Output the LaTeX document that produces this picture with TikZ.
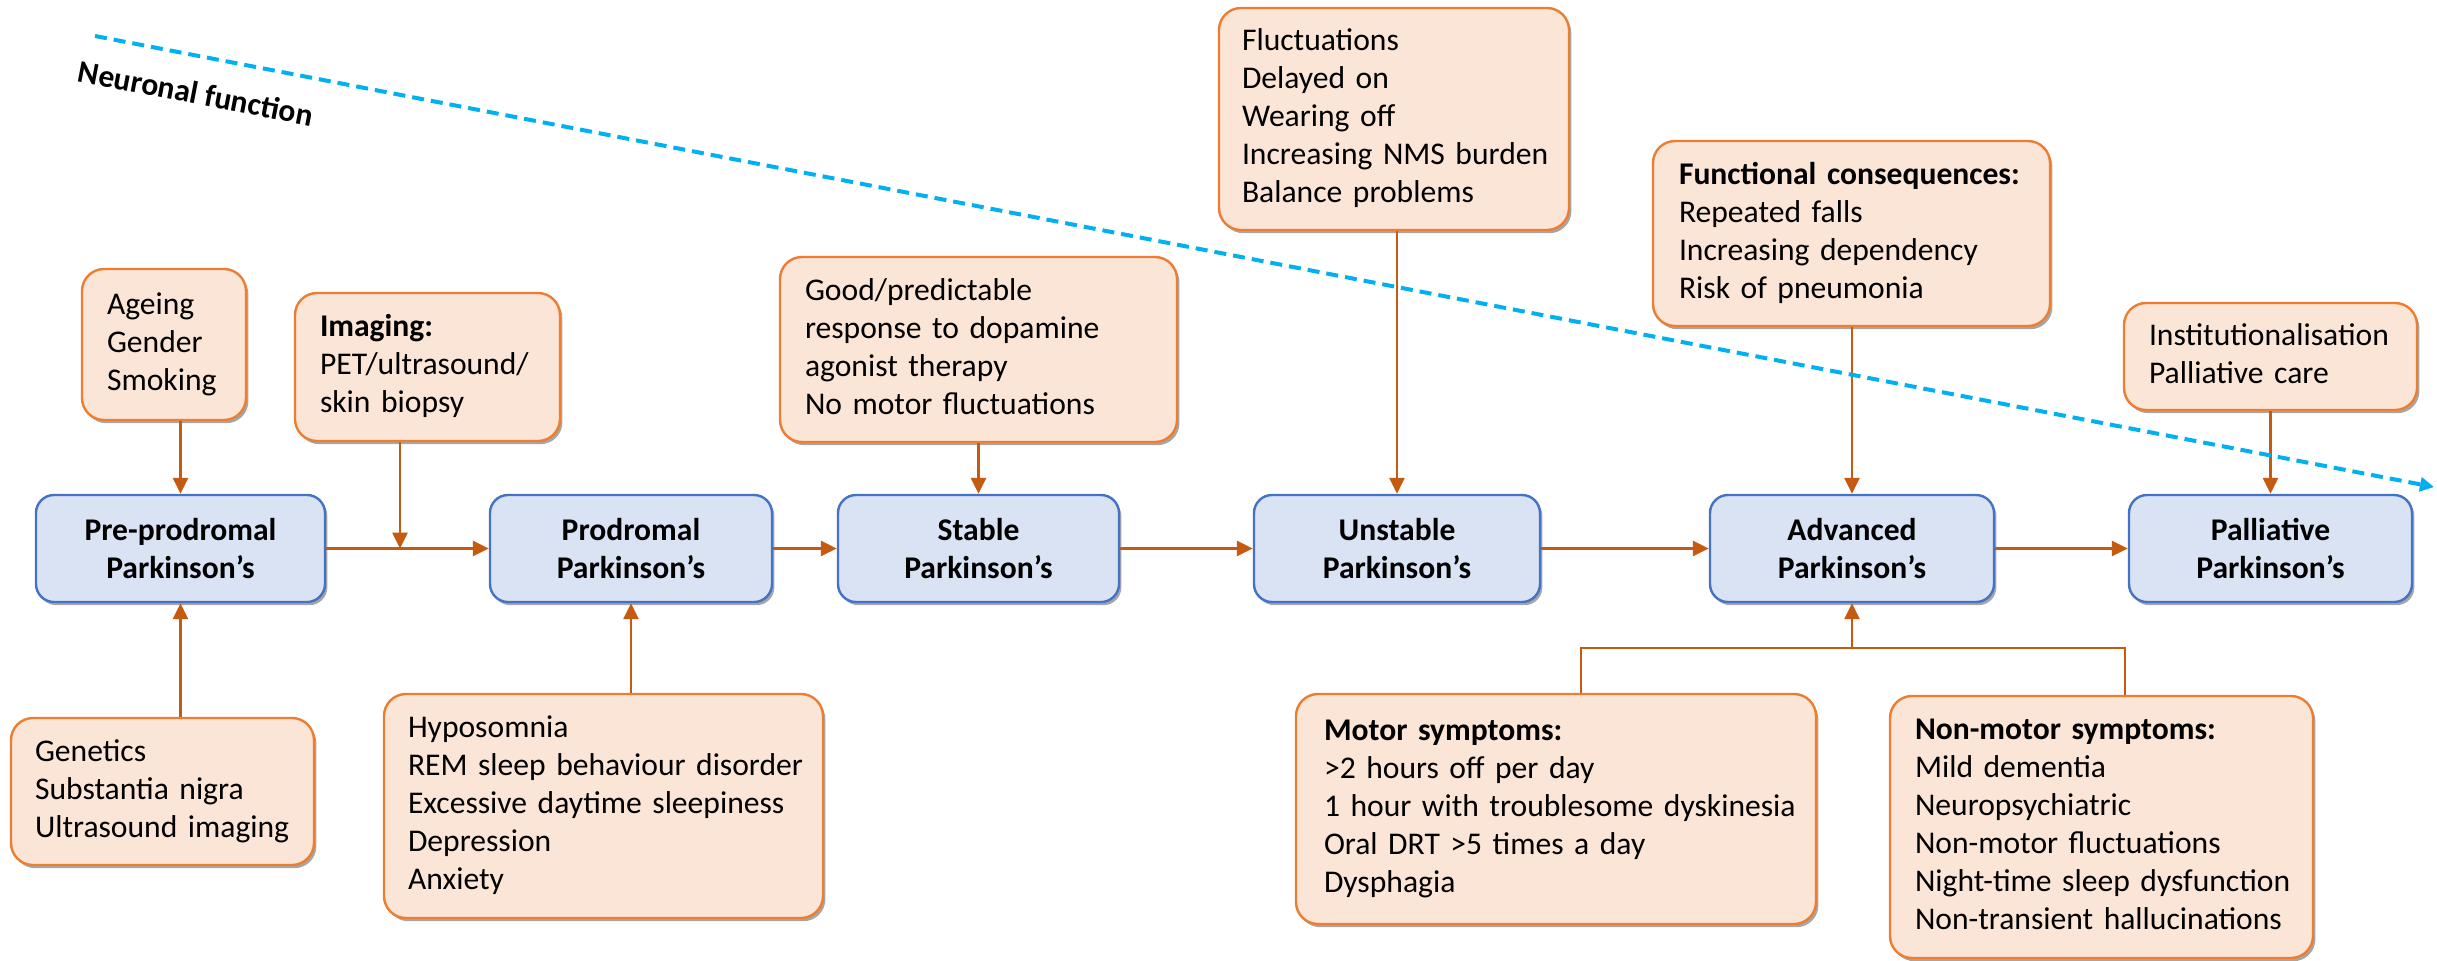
\documentclass[tikz,border=0pt]{standalone}
\usepackage{fontspec}
\setmainfont{Carlito}
\usetikzlibrary{arrows.meta,shadows}
\definecolor{bfill}{HTML}{DAE3F3}
\definecolor{bdraw}{HTML}{4472C4}
\definecolor{ofill}{HTML}{FBE5D6}
\definecolor{odraw}{HTML}{ED7D31}
\definecolor{connc}{HTML}{C55A11}
\definecolor{nfblue}{HTML}{00B0F0}
\newcommand{\boxlines}[1]{\begin{tabular}{@{}l@{}}#1\end{tabular}}
\begin{document}
\begin{tikzpicture}[x=0.5pt,y=-0.5pt,
  font=\fontsize{15.8}{19}\selectfont,
  shade/.style={drop shadow={shadow xshift=1.2pt,shadow yshift=-1.6pt,fill=black,opacity=0.35}},
  stage/.style={draw=bdraw, fill=bfill, line width=1.2pt, rounded corners=9pt,
    minimum height=53.5pt, align=center, inner sep=0pt,
    font=\fontsize{15.8}{19}\selectfont\bfseries, shade},
  info/.style={draw=odraw, fill=ofill, line width=1.2pt, rounded corners=11pt,
    inner xsep=12.5pt, inner ysep=0pt, align=left, shade},
  link/.style={draw=connc, line width=1.3pt},
  arr/.style={link, -{Triangle[length=8pt,width=7.5pt]}},
  trend/.style={draw=nfblue, line width=2pt, dash pattern=on 6pt off 3.5pt,
    -{Triangle[length=7pt,width=7pt]}},
]
\useasboundingbox (0,0) rectangle (2437,960);

% main stages
\node[stage, minimum width=144.5pt] (pre) at (180.5,548.5) {Pre-prodromal\\Parkinson’s};
\node[stage, minimum width=141pt] (prod) at (631,548.5) {Prodromal\\Parkinson’s};
\node[stage, minimum width=140.5pt] (stable) at (978.5,548.5) {Stable\\Parkinson’s};
\node[stage, minimum width=143pt] (unstable) at (1397,548.5) {Unstable\\Parkinson’s};
\node[stage, minimum width=142pt] (advanced) at (1852,548.5) {Advanced\\Parkinson’s};
\node[stage, minimum width=141.5pt] (pall) at (2270.5,548.5) {Palliative\\Parkinson’s};

% top info boxes
\node[info, text width=57pt, minimum height=75.5pt] (ageing) at (164,344.5)
  {\boxlines{Ageing\\Gender\\Smoking}};
\node[info, text width=107.5pt, minimum height=74pt] (imaging) at (427.5,367)
  {\boxlines{\textbf{Imaging:}\\PET/ultrasound/\\skin biopsy}};
\node[info, text width=173.5pt, minimum height=92.5pt] (good) at (978.5,349.5)
  {\boxlines{Good/predictable\\response to dopamine\\agonist therapy\\No motor fluctuations}};
\node[info, inner xsep=11.5pt, text width=152pt, minimum height=111pt] (fluct) at (1394,119)
  {\boxlines{Fluctuations\\Delayed on\\Wearing off\\Increasing NMS burden\\Balance problems}};
\node[info, inner xsep=13pt, text width=172.5pt, minimum height=92.5pt] (func) at (1851.5,233.5)
  {\boxlines{\textbf{Functional consequences:}\\Repeated falls\\Increasing dependency\\Risk of pneumonia}};
\node[info, text width=121.5pt, minimum height=53.5pt] (inst) at (2270.5,356.5)
  {\boxlines{Institutionalisation\\Palliative care}};

% bottom info boxes
\node[info, inner xsep=12pt, text width=127.5pt, minimum height=73.5pt] (genetics) at (162.5,791.5)
  {\boxlines{Genetics\\Substantia nigra\\Ultrasound imaging}};
\node[info, inner xsep=12pt, text width=195.5pt, minimum height=112pt] (hypo) at (603.5,806)
  {\boxlines{Hyposomnia\\REM sleep behaviour disorder\\Excessive daytime sleepiness\\Depression\\Anxiety}};
\node[info, inner xsep=14pt, text width=232pt, minimum height=115pt] (motor) at (1556,809)
  {\boxlines{\textbf{Motor symptoms:}\\>2 hours off per day\\1 hour with troublesome dyskinesia\\Oral DRT >5 times a day\\Dysphagia}};
\node[info, text width=186.5pt, minimum height=131pt] (nonmotor) at (2101.5,827)
  {\boxlines{\textbf{Non-motor symptoms:}\\Mild dementia\\Neuropsychiatric\\Non-motor fluctuations\\Night-time sleep dysfunction\\Non-transient hallucinations}};

% junction points
\coordinate (j1) at (400,548.5);
\coordinate (m1) at (1581,648);
\coordinate (n1) at (2125,648);

% main flow
\draw[arr] (pre.east) -- (prod.west);
\draw[arr] (prod.east) -- (stable.west);
\draw[arr] (stable.east) -- (unstable.west);
\draw[arr] (unstable.east) -- (advanced.west);
\draw[arr] (advanced.east) -- (pall.west);

% influences from above
\draw[arr] (ageing.south -| pre.north) -- (pre.north);
\draw[arr] (imaging.south -| j1) -- (j1);
\draw[arr] (good.south -| stable.north) -- (stable.north);
\draw[arr] (fluct.south -| unstable.north) -- (unstable.north);
\draw[arr] (func.south -| advanced.north) -- (advanced.north);
\draw[arr] (inst.south -| pall.north) -- (pall.north);

% influences from below
\draw[arr] (genetics.north -| pre.south) -- (pre.south);
\draw[arr] (hypo.north -| prod.south) -- (prod.south);
\draw[link] (motor.north -| m1) -- (m1) -- (n1) -- (nonmotor.north -| n1);
\draw[arr] (m1 -| advanced.south) -- (advanced.south);

% neuronal function trend
\coordinate (nf0) at (95,36);
\coordinate (nf1) at (2434,487);
\draw[trend] (nf0) -- (nf1);
\node[font=\fontsize{15.8}{19}\selectfont\bfseries, rotate=-10.9, inner sep=0pt] (nflabel) at (196,93) {Neuronal function};
\end{tikzpicture}
\end{document}
